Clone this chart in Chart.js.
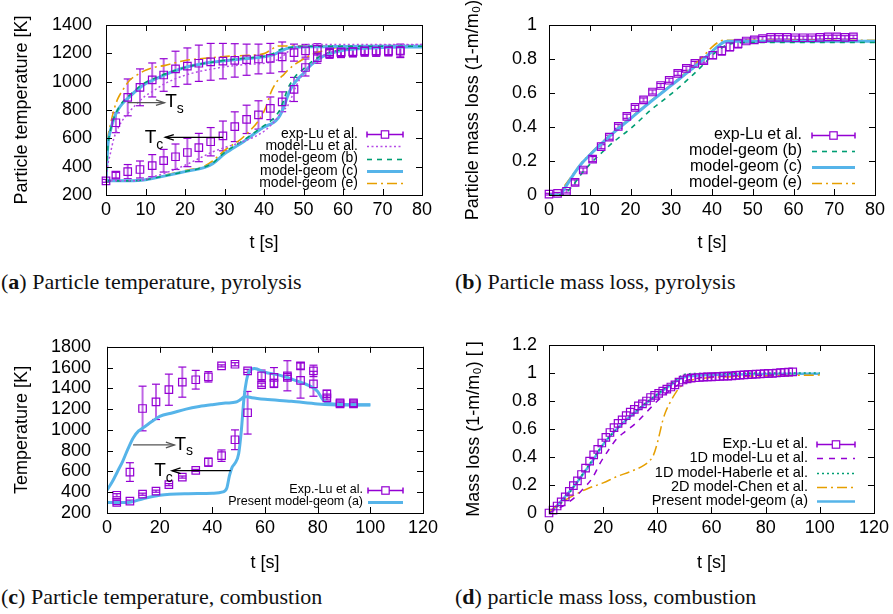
<!DOCTYPE html>
<html>
<head>
<meta charset="utf-8">
<script src="https://cdn.jsdelivr.net/npm/chart.js@4.4.1/dist/chart.umd.min.js"></script>
<style>
  body { margin: 0; background: #fff; }
  #page { position: relative; width: 893px; height: 614px; overflow: hidden; background: #fff; }
  canvas { position: absolute; }
  .cap { position: absolute; font-family: "Liberation Serif", "DejaVu Serif", serif; font-size: 22px; color: #111; white-space: nowrap; line-height: 26px; }
  .cap b { font-weight: bold; }
</style>
</head>
<body>
<div id="page">
  <canvas id="pa" width="445" height="260" style="left:0;top:0"></canvas>
  <canvas id="pb" width="448" height="260" style="left:445px;top:0"></canvas>
  <canvas id="pc" width="445" height="260" style="left:0;top:320px"></canvas>
  <canvas id="pd" width="448" height="260" style="left:445px;top:320px"></canvas>
  <div class="cap" style="left:1px;top:269px">(<b>a</b>) Particle temperature, pyrolysis</div>
  <div class="cap" style="left:455px;top:269px">(<b>b</b>) Particle mass loss, pyrolysis</div>
  <div class="cap" style="left:1px;top:584px">(<b>c</b>) Particle temperature, combustion</div>
  <div class="cap" style="left:455px;top:584px">(<b>d</b>) particle mass loss, combustion</div>
</div>
<script>
// ---------- (a) particle temperature, pyrolysis ----------
const aSurfExpT = [2.5, 5.5, 8.6, 11.7, 14.6, 17.6, 20.6, 23.5, 26.5, 29.6, 32.6, 35.6, 38.6, 41.6, 44.6, 47.6, 50.5, 53.5, 56.6, 59.5, 62.5, 65.5, 68.4, 71.5, 74.5];
const aSurfExp = [710, 889, 960, 1012, 1047, 1090, 1110, 1130, 1140, 1145, 1150, 1155, 1160, 1165, 1175, 1205, 1218, 1228, 1210, 1205, 1210, 1218, 1215, 1218, 1220];
const aSurfErr = [70, 130, 130, 120, 115, 125, 128, 128, 130, 125, 118, 110, 105, 105, 105, 60, 45, 40, 40, 35, 35, 35, 35, 35, 45];
const aCoreExpT = [0, 2.5, 5.5, 8.6, 11.7, 14.6, 17.6, 20.6, 23.5, 26.5, 29.6, 32.6, 35.6, 38.6, 41.6, 44.6, 47.6, 50.5, 53.5, 56.6, 59.5, 62.5, 65.5, 68.4, 71.5, 74.5];
const aCoreExp = [300, 340, 365, 380, 407, 442, 470, 500, 535, 576, 617, 682, 734, 765, 812, 858, 945, 1100, 1170, 1200, 1210, 1212, 1215, 1215, 1218, 1215];
const aCoreErr = [10, 20, 50, 60, 78, 80, 90, 100, 100, 100, 105, 105, 100, 100, 80, 70, 85, 60, 40, 35, 35, 35, 35, 35, 35, 45];

const aModelT = [0, 0.5, 1, 2, 3, 4, 6, 8, 10, 12, 15, 20, 25, 27, 30, 35, 40, 42, 43, 44, 45, 46, 47, 48, 50, 52, 55, 60, 65, 70, 80];
const aLuSurf = [300, 420, 480, 600, 670, 720, 790, 850, 900, 935, 988, 1045, 1080, 1090, 1105, 1120, 1130, 1140, 1150, 1165, 1185, 1210, 1230, 1245, 1258, 1262, 1262, 1262, 1262, 1262, 1262];
const aLuCore = [300, 300, 300, 300, 300, 300, 300, 302, 310, 329, 355, 410, 478, 505, 535, 580, 650, 700, 730, 770, 800, 830, 890, 960, 1060, 1120, 1185, 1228, 1248, 1258, 1262];
const aGeomBSurf = [300, 550, 640, 745, 805, 850, 905, 955, 995, 1020, 1055, 1100, 1130, 1138, 1150, 1165, 1180, 1195, 1210, 1225, 1235, 1240, 1243, 1245, 1250, 1250, 1250, 1250, 1250, 1250, 1250];
const aGeomBCore = [300, 300, 300, 300, 300, 300, 300, 302, 308, 318, 335, 365, 398, 425, 500, 590, 690, 730, 760, 800, 870, 950, 1000, 1040, 1090, 1140, 1190, 1228, 1240, 1245, 1250];
const aGeomCSurf = [300, 560, 640, 740, 800, 840, 895, 945, 985, 1012, 1050, 1100, 1130, 1138, 1148, 1162, 1175, 1188, 1198, 1212, 1225, 1235, 1240, 1243, 1245, 1246, 1247, 1248, 1250, 1250, 1250];
const aGeomCCore = [300, 300, 300, 300, 300, 300, 300, 302, 308, 318, 335, 365, 395, 420, 490, 580, 680, 705, 725, 760, 820, 900, 960, 1000, 1060, 1120, 1180, 1222, 1235, 1242, 1245];
const aGeomESurf = [300, 600, 680, 800, 880, 930, 1010, 1050, 1080, 1100, 1115, 1150, 1165, 1170, 1178, 1185, 1198, 1230, 1248, 1252, 1252, 1252, 1252, 1252, 1252, 1252, 1252, 1252, 1252, 1252, 1252];
const aGeomECore = [300, 300, 300, 300, 300, 300, 300, 302, 308, 320, 340, 372, 405, 440, 515, 615, 790, 940, 990, 1024, 1050, 1080, 1105, 1125, 1160, 1190, 1218, 1248, 1252, 1252, 1252];

const aXTicks = [0, 10, 20, 30, 40, 50, 60, 70, 80];
const aYTicks = [200, 400, 600, 800, 1000, 1200, 1400];
const aYLabels = ['200', '400', '600', '800', '1000', '1200', '1400'];

// ---------- (b) particle mass loss, pyrolysis ----------
const bExpT = [0, 2.1, 4.3, 6.4, 8.4, 10.7, 12.8, 14.8, 17, 19.1, 21.1, 23.2, 25.4, 27.4, 29.5, 31.6, 33.7, 35.8, 38, 40.2, 42.4, 44.4, 46.4, 48.4, 50.4, 52.4, 54.4, 56.4, 58.4, 60.4, 62.4, 64.5, 66.5, 68.5, 70.6, 72.6, 74.7];
const bExp = [0.005, 0.01, 0.022, 0.074, 0.147, 0.211, 0.284, 0.34, 0.404, 0.463, 0.515, 0.559, 0.606, 0.644, 0.675, 0.716, 0.745, 0.774, 0.791, 0.822, 0.848, 0.872, 0.89, 0.906, 0.912, 0.92, 0.927, 0.927, 0.927, 0.925, 0.925, 0.925, 0.927, 0.93, 0.93, 0.927, 0.93];
const bErr = [0.005, 0.005, 0.01, 0.015, 0.012, 0.015, 0.012, 0.012, 0.012, 0.012, 0.012, 0.012, 0.012, 0.012, 0.012, 0.012, 0.012, 0.012, 0.015, 0.02, 0.025, 0.025, 0.025, 0.012, 0.012, 0.012, 0.01, 0.01, 0.01, 0.01, 0.01, 0.01, 0.01, 0.01, 0.01, 0.01, 0.01];
const bModelT = [0, 2, 2.5, 3, 4, 6, 8, 10, 13, 16, 20, 25, 30, 35, 38, 40, 42, 43, 44, 45, 46, 50, 60, 80];
const bGeomB = [0, 0, 0, 0, 0.01, 0.06, 0.125, 0.18, 0.25, 0.315, 0.39, 0.5, 0.595, 0.7, 0.77, 0.82, 0.86, 0.875, 0.885, 0.892, 0.895, 0.897, 0.897, 0.897];
const bGeomC = [0, 0, 0, 0.008, 0.045, 0.12, 0.185, 0.235, 0.305, 0.37, 0.45, 0.55, 0.645, 0.74, 0.8, 0.845, 0.885, 0.9, 0.905, 0.905, 0.905, 0.905, 0.905, 0.905];
const bGeomE = [0, 0, 0.015, 0.03, 0.06, 0.125, 0.19, 0.24, 0.31, 0.375, 0.455, 0.555, 0.65, 0.75, 0.82, 0.87, 0.905, 0.91, 0.91, 0.91, 0.91, 0.91, 0.91, 0.91];
const bYTicks = [0, 0.2, 0.4, 0.6, 0.8, 1];
const bYLabels = ['0', '0.2', '0.4', '0.6', '0.8', '1'];

// ---------- (c) particle temperature, combustion ----------
const cExpT = [3.7, 8.7, 13.5, 18.6, 23.5, 28.6, 33.7, 38.5, 43.5, 48.6, 53.4, 58.7, 63.4, 68.5, 73.5, 78.4, 83.5, 88.5, 93.6];
const cSurfExp = [371, 594, 1206, 1270, 1387, 1460, 1483, 1511, 1616, 1632, 1568, 1521, 1505, 1521, 1616, 1568, 1346, 1260, 1260];
const cSurfErr = [15, 90, 215, 170, 150, 145, 90, 50, 10, 15, 15, 55, 95, 145, 30, 55, 35, 10, 10];
const cCoreExp = [302, 314, 381, 410, 473, 546, 610, 689, 752, 905, 1165, 1435, 1448, 1505, 1476, 1444, 1308, 1250, 1250];
const cCoreErr = [20, 10, 10, 10, 10, 10, 10, 40, 55, 95, 205, 15, 40, 20, 170, 120, 20, 10, 10];
const cSurfModelT = [0, 2, 4, 6, 8, 10, 12, 14, 17, 20, 25, 30, 35, 40, 45, 49, 50, 51, 52, 53, 55, 60, 70, 80, 85, 90, 100];
const cSurfModel = [420, 500, 600, 700, 820, 925, 990, 1025, 1080, 1130, 1165, 1200, 1225, 1243, 1258, 1268, 1280, 1298, 1318, 1320, 1310, 1295, 1275, 1250, 1242, 1240, 1240];
const cCoreModelT = [0, 8, 14, 20, 30, 40, 44, 45.5, 46.5, 47.5, 48.5, 50, 51, 52, 53, 54, 56, 60, 65, 70, 75, 78, 80, 82, 84, 90, 100];
const cCoreModel = [300, 302, 340, 370, 385, 390, 403, 440, 560, 640, 675, 770, 990, 1300, 1480, 1560, 1590, 1555, 1530, 1490, 1445, 1410, 1370, 1290, 1258, 1245, 1242];
const cXTicks = [0, 20, 40, 60, 80, 100, 120];
const cYTicks = [200, 400, 600, 800, 1000, 1200, 1400, 1600, 1800];
const cYLabels = ['200', '400', '600', '800', '1000', '1200', '1400', '1600', '1800'];

// ---------- (d) particle mass loss, combustion ----------
const dExpT = [0, 1.5, 3, 4.5, 6, 7.5, 9, 10.5, 12, 13.5, 15, 16.5, 18, 19.5, 21, 22.5, 24, 25.5, 27, 28.5, 30, 31.5, 33, 34.5, 36, 37.5, 39, 40.5, 42, 43.5, 45, 46.5, 48, 49.5, 51, 52.5, 54, 55.5, 57, 58.5, 60, 61.5, 63, 64.5, 66, 67.5, 69, 70.5, 72, 73.5, 75, 76.5, 78, 79.5, 81, 82.5, 84, 85.5, 87, 88.5, 90];
const dExp = [0, 0.02, 0.05, 0.08, 0.115, 0.155, 0.195, 0.23, 0.275, 0.32, 0.37, 0.415, 0.455, 0.5, 0.54, 0.575, 0.61, 0.64, 0.665, 0.695, 0.72, 0.74, 0.765, 0.78, 0.8, 0.825, 0.84, 0.855, 0.87, 0.885, 0.9, 0.915, 0.935, 0.95, 0.958, 0.963, 0.966, 0.968, 0.97, 0.972, 0.973, 0.974, 0.975, 0.977, 0.978, 0.98, 0.983, 0.985, 0.987, 0.988, 0.99, 0.992, 0.993, 0.995, 0.997, 0.998, 1.0, 1.002, 1.004, 1.006, 1.008];
const dLuT = [0, 3, 6, 10, 13, 16, 19, 22, 25, 28, 32, 36, 40, 45, 50, 55, 60, 70, 80, 90];
const dLu = [0, 0.03, 0.06, 0.12, 0.18, 0.25, 0.36, 0.45, 0.53, 0.58, 0.64, 0.72, 0.8, 0.88, 0.94, 0.963, 0.972, 0.98, 0.985, 0.99];
const dHabT = [0, 5, 10, 15, 20, 25, 30, 35, 40, 45, 48, 50, 52, 60, 80, 100];
const dHab = [0, 0.08, 0.21, 0.35, 0.49, 0.6, 0.69, 0.775, 0.85, 0.925, 0.97, 0.99, 0.995, 0.997, 1.0, 1.0];
const dChenT = [0, 5, 10, 15, 20, 25, 30, 35, 37, 38.5, 40, 41, 42, 43, 45, 47, 49, 52, 56, 60, 70, 80, 90, 100];
const dChen = [0.01, 0.08, 0.135, 0.18, 0.215, 0.26, 0.295, 0.34, 0.37, 0.41, 0.5, 0.58, 0.66, 0.72, 0.8, 0.865, 0.91, 0.945, 0.96, 0.968, 0.975, 0.98, 0.983, 0.985];
const dPresentT = [0, 2, 4, 7, 10, 13, 16, 20, 25, 30, 35, 40, 45, 48, 50, 52, 55, 60, 70, 80, 90, 100];
const dPresent = [0, 0.035, 0.075, 0.14, 0.21, 0.29, 0.37, 0.49, 0.6, 0.69, 0.77, 0.845, 0.915, 0.955, 0.97, 0.978, 0.982, 0.987, 0.99, 0.993, 0.995, 0.995];
const dYTicks = [0, 0.2, 0.4, 0.6, 0.8, 1, 1.2];
const dYLabels = ['0', '0.2', '0.4', '0.6', '0.8', '1', '1.2'];

const FONT = '"Liberation Sans", Arial, sans-serif';
const PURPLE = '#9400d3', LUPURPLE = '#b54be6', GREEN = '#009e73', BLUE = '#56b4e9', ORANGE = '#e69f00';

function pts(xs, ys) { return xs.map((x, i) => ({ x: x, y: ys[i] })); }

function lineSet(label, xs, ys, color, width, dash) {
  return {
    label: label, key: label, data: pts(xs, ys), showLine: true,
    borderColor: color, backgroundColor: color, borderWidth: width, borderDash: dash || [],
    pointRadius: 0, fill: false, cubicInterpolationMode: 'monotone'
  };
}
function expSet(label, xs, ys, err, key) {
  return {
    label: label, key: key ? label : null, data: pts(xs, ys), showLine: false, err: err,
    pointStyle: 'rect', pointRadius: 5.3, borderColor: PURPLE, backgroundColor: 'rgba(0,0,0,0)',
    borderWidth: 1.2, clip: false
  };
}

function seg(ctx, x1, y1, x2, y2) { ctx.beginPath(); ctx.moveTo(x1, y1); ctx.lineTo(x2, y2); ctx.stroke(); }

// error bars under the squares
const errorBars = {
  id: 'errorBars',
  beforeDatasetsDraw(chart) {
    const ctx = chart.ctx, xs = chart.scales.x, ys = chart.scales.y;
    ctx.save();
    chart.data.datasets.forEach(ds => {
      if (!ds.err) return;
      ds.data.forEach((p, i) => {
        const e = ds.err[i];
        if (!e) return;
        const px = xs.getPixelForValue(p.x);
        const top = ys.getPixelForValue(p.y + e), bot = ys.getPixelForValue(p.y - e);
        ctx.strokeStyle = 'rgba(148,0,211,0.6)'; ctx.lineWidth = 2;
        seg(ctx, px, top, px, bot);
        ctx.strokeStyle = PURPLE; ctx.lineWidth = 1.2;
        seg(ctx, px - 4, top, px + 4, top);
        seg(ctx, px - 4, bot, px + 4, bot);
      });
    });
    ctx.restore();
  }
};

// gnuplot style border with inward ticks on all four sides
const frame = {
  id: 'frame',
  afterDatasetsDraw(chart) {
    const ctx = chart.ctx, a = chart.chartArea, xs = chart.scales.x, ys = chart.scales.y;
    ctx.save();
    ctx.strokeStyle = '#000'; ctx.lineWidth = 1;
    ctx.strokeRect(Math.round(a.left) + 0.5, Math.round(a.top) + 0.5, Math.round(a.right - a.left), Math.round(a.bottom - a.top));
    const L = 6;
    xs.ticks.forEach(t => {
      const px = Math.round(xs.getPixelForValue(t.value)) + 0.5;
      seg(ctx, px, a.bottom, px, a.bottom - L);
      seg(ctx, px, a.top, px, a.top + L);
    });
    ys.ticks.forEach(t => {
      const py = Math.round(ys.getPixelForValue(t.value)) + 0.5;
      seg(ctx, a.left, py, a.left + L, py);
      seg(ctx, a.right, py, a.right - L, py);
    });
    ctx.restore();
  }
};

// key inside the plot, text right aligned then the line sample
const key = {
  id: 'key',
  afterDraw(chart, args, o) {
    if (!o || !o.right) return;
    const ctx = chart.ctx;
    ctx.save();
    ctx.font = o.size + 'px ' + FONT;
    ctx.textAlign = 'right'; ctx.textBaseline = 'middle'; ctx.fillStyle = '#000';
    let row = 0;
    chart.data.datasets.forEach(ds => {
      if (!ds.key) return;
      const y = o.y0 + row * o.dy;
      ctx.fillText(ds.key, o.right, y);
      const yy = Math.round(y) + 0.5;
      if (ds.err) {
        ctx.strokeStyle = PURPLE; ctx.lineWidth = 1.5; ctx.setLineDash([]);
        seg(ctx, o.s0, yy, o.s1, yy);
        seg(ctx, o.s0, yy - 3, o.s0, yy + 3);
        seg(ctx, o.s1, yy - 3, o.s1, yy + 3);
        const mx = (o.s0 + o.s1) / 2;
        ctx.fillStyle = '#fff';
        ctx.fillRect(mx - 3.7, yy - 3.7, 7.4, 7.4);
        ctx.lineWidth = 1.2;
        ctx.strokeRect(mx - 3.7, yy - 3.7, 7.4, 7.4);
        ctx.fillStyle = '#000';
      } else {
        ctx.strokeStyle = ds.borderColor; ctx.lineWidth = ds.borderWidth;
        ctx.setLineDash(ds.borderDash || []);
        seg(ctx, o.s0, yy, o.s1, yy);
        ctx.setLineDash([]);
      }
      row++;
    });
    ctx.restore();
  }
};

// T_s / T_c arrows, given in data coordinates
const marks = {
  id: 'marks',
  afterDraw(chart, args, o) {
    if (!o || !o.arrows) return;
    const ctx = chart.ctx, xs = chart.scales.x, ys = chart.scales.y;
    ctx.save();
    o.arrows.forEach(ar => {
      const x1 = xs.getPixelForValue(ar.from[0]), y1 = ys.getPixelForValue(ar.from[1]);
      const x2 = xs.getPixelForValue(ar.to[0]), y2 = ys.getPixelForValue(ar.to[1]);
      ctx.strokeStyle = ar.color; ctx.lineWidth = 1.3;
      seg(ctx, x1, y1, x2, y2);
      const ang = Math.atan2(y2 - y1, x2 - x1), h = 9, w = 0.32;
      ctx.beginPath();
      ctx.moveTo(x2 - h * Math.cos(ang - w), y2 - h * Math.sin(ang - w));
      ctx.lineTo(x2, y2);
      ctx.lineTo(x2 - h * Math.cos(ang + w), y2 - h * Math.sin(ang + w));
      ctx.stroke();
      const lx = xs.getPixelForValue(ar.at[0]), ly = ys.getPixelForValue(ar.at[1]);
      ctx.fillStyle = '#000'; ctx.textAlign = 'left'; ctx.textBaseline = 'middle';
      ctx.font = '19px ' + FONT;
      ctx.fillText(ar.label, lx, ly);
      const wT = ctx.measureText(ar.label).width;
      ctx.font = '14px ' + FONT;
      ctx.fillText(ar.sub, lx + wT, ly + 7);
    });
    ctx.restore();
  }
};

function makeChart(id, p) {
  const tickFont = { family: FONT, size: 18 };
  const titleFont = { family: FONT, size: 18 };
  new Chart(document.getElementById(id), {
    type: 'scatter',
    data: { datasets: p.datasets },
    options: {
      responsive: false, animation: false, events: [],
      layout: { padding: { left: 0, top: 25, right: p.padRight, bottom: 0 } },
      plugins: {
        legend: { display: false }, tooltip: { enabled: false },
        key: p.key, marks: { arrows: p.arrows || [] }
      },
      scales: {
        x: {
          type: 'linear', min: p.xTicks[0], max: p.xTicks[p.xTicks.length - 1],
          afterBuildTicks: s => { s.ticks = p.xTicks.map(v => ({ value: v })); },
          afterFit: s => { s.height = p.xh; },
          ticks: { font: tickFont, color: '#000', padding: 4, maxRotation: 0, autoSkip: false, callback: v => String(v) },
          grid: { display: false, drawTicks: false }, border: { display: false },
          title: { display: true, text: 't [s]', font: titleFont, color: '#000', padding: { top: 0, bottom: 6 } }
        },
        y: {
          type: 'linear', min: p.yTicks[0], max: p.yTicks[p.yTicks.length - 1],
          afterBuildTicks: s => { s.ticks = p.yTicks.map(v => ({ value: v })); },
          afterFit: s => { s.width = p.yw; },
          ticks: { font: tickFont, color: '#000', padding: p.yPad, autoSkip: false, callback: (v, i) => p.yLabels[i] },
          grid: { display: false, drawTicks: false }, border: { display: false },
          title: { display: true, text: p.yTitle, font: titleFont, color: '#000', padding: { top: p.yTitlePad, bottom: 0 } }
        }
      }
    },
    plugins: [errorBars, frame, key, marks]
  });
}

makeChart('pa', {
  xTicks: aXTicks, yTicks: aYTicks, yLabels: aYLabels, yTitle: 'Particle temperature [K]',
  yw: 106, xh: 65, padRight: 23, yPad: 14, yTitlePad: 11,
  datasets: [
    expSet('exp-Lu et al.', aSurfExpT, aSurfExp, aSurfErr, true),
    expSet('exp-Lu et al.', aCoreExpT, aCoreExp, aCoreErr, false),
    lineSet('model-Lu et al.', aModelT, aLuSurf, LUPURPLE, 1.5, [2, 2.5]),
    lineSet('model-geom (b)', aModelT, aGeomBSurf, GREEN, 1.6, [5, 5]),
    lineSet('model-geom (c)', aModelT, aGeomCSurf, BLUE, 3, []),
    lineSet('model-geom (e)', aModelT, aGeomESurf, ORANGE, 1.6, [10, 4, 2, 4]),
    Object.assign(lineSet('model-Lu et al.', aModelT, aLuCore, LUPURPLE, 1.5, [2, 2.5]), { key: null }),
    Object.assign(lineSet('model-geom (b)', aModelT, aGeomBCore, GREEN, 1.6, [5, 5]), { key: null }),
    Object.assign(lineSet('model-geom (c)', aModelT, aGeomCCore, BLUE, 3, []), { key: null }),
    Object.assign(lineSet('model-geom (e)', aModelT, aGeomECore, ORANGE, 1.6, [10, 4, 2, 4]), { key: null })
  ],
  key: { right: 358, s0: 367, s1: 403, y0: 134, dy: 12.3, size: 14 },
  arrows: [
    { from: [5.5, 852], to: [14.8, 852], color: '#555', label: 'T', sub: 's', at: [15.0, 857] },
    { from: [29.6, 607], to: [15.0, 607], color: '#000', label: 'T', sub: 'c', at: [9.8, 602] }
  ]
});

makeChart('pb', {
  xTicks: aXTicks, yTicks: bYTicks, yLabels: bYLabels, yTitle: 'Particle mass loss (1-m/m\u2080)',
  yw: 104, xh: 65, padRight: 18, yPad: 12, yTitlePad: 17,
  datasets: [
    expSet('exp-Lu et al.', bExpT, bExp, bErr, true),
    lineSet('model-geom (b)', bModelT, bGeomB, GREEN, 1.6, [5, 5]),
    lineSet('model-geom (c)', bModelT, bGeomC, BLUE, 3, []),
    lineSet('model-geom (e)', bModelT, bGeomE, ORANGE, 1.6, [10, 4, 2, 4])
  ],
  key: { right: 357, s0: 367, s1: 410, y0: 135, dy: 16, size: 16 }
});

makeChart('pc', {
  xTicks: cXTicks, yTicks: cYTicks, yLabels: cYLabels, yTitle: 'Temperature [K]',
  yw: 107, xh: 67, padRight: 22, yPad: 16, yTitlePad: 11,
  datasets: [
    expSet('Exp.-Lu et al.', cExpT, cSurfExp, cSurfErr, true),
    expSet('Exp.-Lu et al.', cExpT, cCoreExp, cCoreErr, false),
    lineSet('Present model-geom (a)', cSurfModelT, cSurfModel, BLUE, 3, []),
    Object.assign(lineSet('Present model-geom (a)', cCoreModelT, cCoreModel, BLUE, 3, []), { key: null })
  ],
  key: { right: 363, s0: 368, s1: 403, y0: 170, dy: 12, size: 12.5 },
  arrows: [
    { from: [9.9, 855], to: [25.6, 855], color: '#555', label: 'T', sub: 's', at: [25.6, 860] },
    { from: [47, 607], to: [24.7, 607], color: '#000', label: 'T', sub: 'c', at: [17.9, 602] }
  ]
});

makeChart('pd', {
  xTicks: cXTicks, yTicks: dYTicks, yLabels: dYLabels, yTitle: 'Mass loss (1-m/m\u2080) [ ]',
  yw: 104, xh: 67, padRight: 18, yPad: 12, yTitlePad: 18,
  datasets: [
    Object.assign(expSet('Exp.-Lu et al.', dExpT, dExp, null, true), { err: [] }),
    lineSet('1D model-Lu et al.', dLuT, dLu, PURPLE, 1.5, [6, 6]),
    lineSet('1D model-Haberle et al.', dHabT, dHab, GREEN, 1.6, [2, 3]),
    lineSet('2D model-Chen et al.', dChenT, dChen, ORANGE, 1.5, [10, 4, 2, 4]),
    lineSet('Present model-geom (a)', dPresentT, dPresent, BLUE, 2.5, [])
  ],
  key: { right: 363, s0: 372, s1: 410, y0: 124, dy: 14.3, size: 14.5 }
});
</script>
</body>
</html>
